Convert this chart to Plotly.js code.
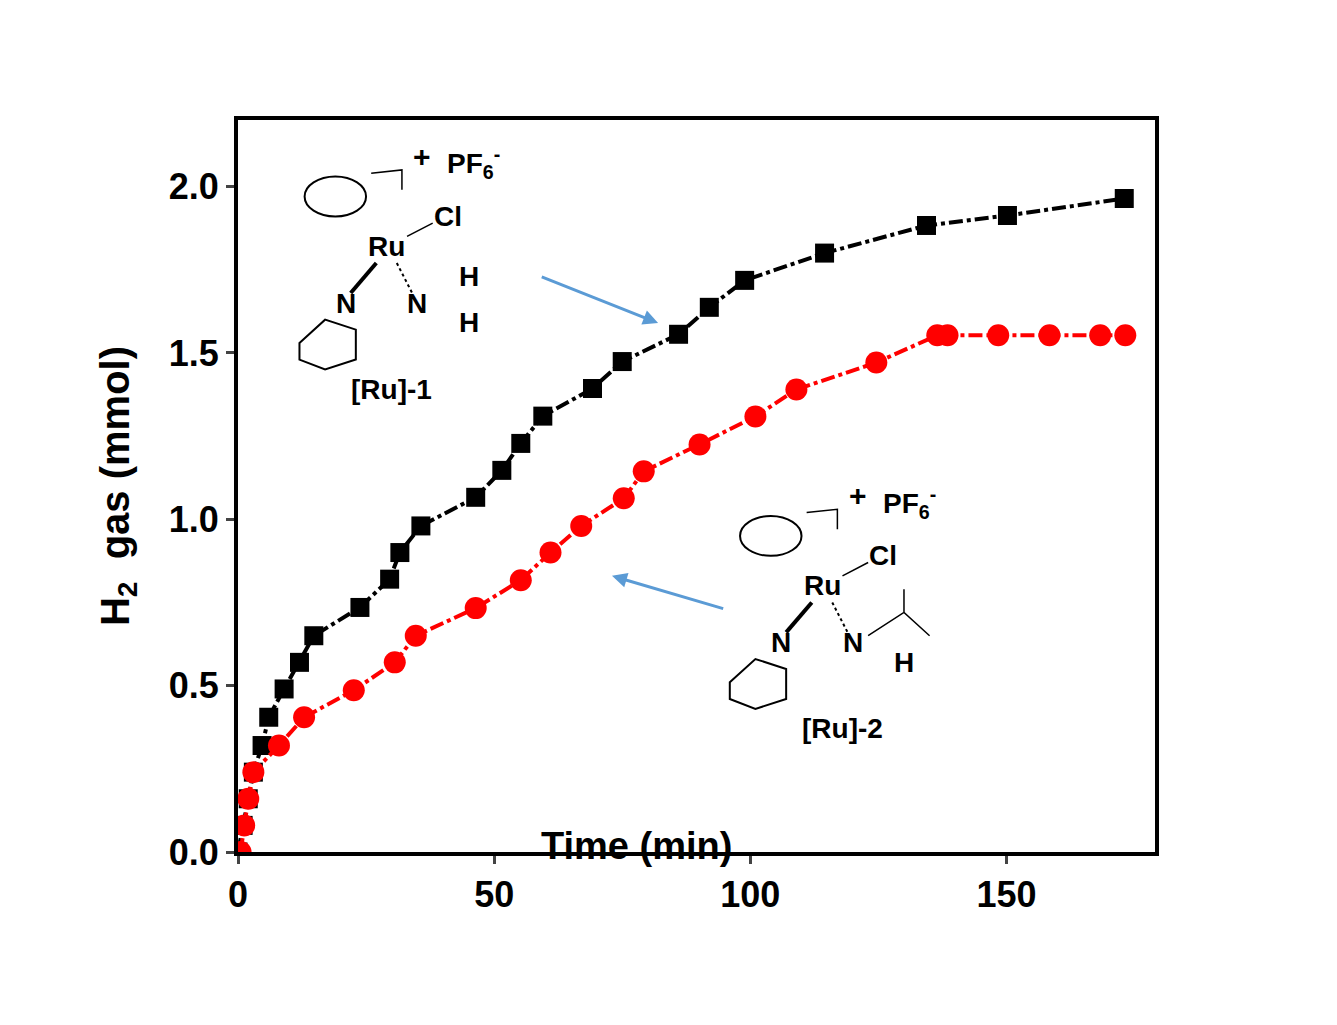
<!DOCTYPE html>
<html><head><meta charset="utf-8">
<script src="https://cdn.plot.ly/plotly-3.0.1.min.js"></script>
<style>body{margin:0;background:#fff}</style></head>
<body><div id="chart" style="width:1337px;height:1025px"></div>
<script>
const ru1Time = [0, 1, 2, 3, 4.7, 6, 9, 12, 14.8, 23.8, 29.6, 31.6, 35.7, 46.4, 51.5, 55.2, 59.5, 69.2, 75, 86, 92, 98.9, 114.5, 134.4, 150.2, 173];
const ru1H2 = [0, 0.08, 0.16, 0.24, 0.32, 0.405, 0.49, 0.57, 0.65, 0.735, 0.82, 0.9, 0.98, 1.066, 1.147, 1.228, 1.31, 1.393, 1.474, 1.556, 1.637, 1.718, 1.8, 1.883, 1.913, 1.964];
const ru2Time = [0.5, 1.2, 2, 3, 8, 12.9, 22.6, 30.6, 34.7, 46.4, 55.2, 61, 67, 75.3, 79.2, 90.1, 101, 109, 124.6, 136.5, 138.5, 148.4, 158.4, 168.3, 173.2];
const ru2H2 = [0, 0.08, 0.16, 0.24, 0.32, 0.405, 0.486, 0.57, 0.65, 0.733, 0.817, 0.9, 0.98, 1.063, 1.144, 1.225, 1.309, 1.39, 1.471, 1.553, 1.553, 1.553, 1.553, 1.553, 1.553];
const xTicks = [0, 50, 100, 150];
const yTicks = [0, 0.5, 1.0, 1.5, 2.0];

const font = { family: 'Liberation Sans, Arial', color: '#000' };

const traces = [
    {
        x: ru1Time, y: ru1H2, name: '[Ru]-1', type: 'scatter', mode: 'lines+markers',
        line: { color: '#000', width: 4, dash: '14px,4px,4px,4px' },
        marker: { symbol: 'square', size: 19, color: '#000' }
    },
    {
        x: ru2Time, y: ru2H2, name: '[Ru]-2', type: 'scatter', mode: 'lines+markers',
        line: { color: '#ff0000', width: 4, dash: '14px,4px,4px,4px' },
        marker: { symbol: 'circle', size: 22, color: '#ff0000' }
    }
];

// structure labels (text only, rough placement)
const lbl = (x, y, t, size) => ({ x, y, xref: 'x', yref: 'y', text: '<b>' + t + '</b>', showarrow: false,
    font: Object.assign({}, font, { size: size || 28 }) });

const annotations = [
    lbl(36, 2.09, '+', 30),
    lbl(46, 2.07, 'PF<sub>6</sub><sup>-</sup>'),
    lbl(41, 1.91, 'Cl'),
    lbl(29, 1.82, 'Ru'),
    lbl(21, 1.65, 'N'),
    lbl(35, 1.65, 'N'),
    lbl(45, 1.73, 'H'),
    lbl(45, 1.59, 'H'),
    lbl(30, 1.39, '[Ru]-1'),
    lbl(121, 1.07, '+', 30),
    lbl(131, 1.05, 'PF<sub>6</sub><sup>-</sup>'),
    lbl(126, 0.89, 'Cl'),
    lbl(114, 0.80, 'Ru'),
    lbl(106, 0.63, 'N'),
    lbl(120, 0.63, 'N'),
    lbl(130, 0.57, 'H'),
    lbl(118, 0.37, '[Ru]-2'),
    { x: 0.435, y: 0.04, xref: 'paper', yref: 'paper', xanchor: 'center', yanchor: 'top', showarrow: false,
      text: '<b>Time (min)</b>', font: Object.assign({}, font, { size: 38 }) },
    // arrows
    { x: 82, y: 1.59, ax: 59, ay: 1.73, xref: 'x', yref: 'y', axref: 'x', ayref: 'y', text: '',
      showarrow: true, arrowhead: 2, arrowsize: 1, arrowwidth: 3, arrowcolor: '#5b9bd5' },
    { x: 73, y: 0.83, ax: 95, ay: 0.73, xref: 'x', yref: 'y', axref: 'x', ayref: 'y', text: '',
      showarrow: true, arrowhead: 2, arrowsize: 1, arrowwidth: 3, arrowcolor: '#5b9bd5' }
];

// rough benzene rings / bonds drawn as shapes
const shapes = [
    { type: 'circle', xref: 'x', yref: 'y', x0: 13, x1: 25, y0: 1.91, y1: 2.03, line: { color: '#000', width: 2 } },
    { type: 'circle', xref: 'x', yref: 'y', x0: 98, x1: 110, y0: 0.89, y1: 1.01, line: { color: '#000', width: 2 } },
    { type: 'path', xref: 'x', yref: 'y', path: 'M 12,1.53 L 17,1.60 L 23,1.57 L 23,1.48 L 17,1.45 L 12,1.48 Z', line: { color: '#000', width: 2 } },
    { type: 'path', xref: 'x', yref: 'y', path: 'M 96,0.51 L 101,0.58 L 107,0.55 L 107,0.46 L 101,0.43 L 96,0.46 Z', line: { color: '#000', width: 2 } },
    { type: 'path', xref: 'x', yref: 'y', path: 'M 26,2.04 L 32,2.05 L 32,1.99', line: { color: '#000', width: 1.5 } },
    { type: 'path', xref: 'x', yref: 'y', path: 'M 111,1.02 L 117,1.03 L 117,0.97', line: { color: '#000', width: 1.5 } },
    { type: 'path', xref: 'x', yref: 'y', path: 'M 27,1.77 L 22,1.68', line: { color: '#000', width: 4 } },
    { type: 'path', xref: 'x', yref: 'y', path: 'M 31,1.77 L 34,1.68', line: { color: '#000', width: 2, dash: 'dot' } },
    { type: 'path', xref: 'x', yref: 'y', path: 'M 33,1.85 L 38,1.89', line: { color: '#000', width: 1.5 } },
    { type: 'path', xref: 'x', yref: 'y', path: 'M 112,0.75 L 107,0.66', line: { color: '#000', width: 4 } },
    { type: 'path', xref: 'x', yref: 'y', path: 'M 116,0.75 L 119,0.66', line: { color: '#000', width: 2, dash: 'dot' } },
    { type: 'path', xref: 'x', yref: 'y', path: 'M 118,0.83 L 123,0.87', line: { color: '#000', width: 1.5 } },
    { type: 'path', xref: 'x', yref: 'y', path: 'M 123,0.65 L 130,0.72 L 135,0.65 M 130,0.72 L 130,0.79', line: { color: '#000', width: 1.5 } }
];

const layout = {
    width: 1337, height: 1025,
    margin: { l: 238, r: 182, t: 120, b: 173 },
    paper_bgcolor: '#fff', plot_bgcolor: '#fff',
    showlegend: false,
    font: font,
    xaxis: {
        range: [0, 179], tickvals: xTicks, ticks: 'outside', ticklen: 8, tickwidth: 3,
        showline: true, linewidth: 4, linecolor: '#000', mirror: true, showgrid: false, zeroline: false,
        tickfont: Object.assign({}, font, { size: 36, weight: 'bold' })
    },
    yaxis: {
        range: [0, 2.2], tickvals: yTicks, ticktext: ['0.0', '0.5', '1.0', '1.5', '2.0'], ticks: 'outside', ticklen: 8, tickwidth: 3,
        showline: true, linewidth: 4, linecolor: '#000', mirror: true, showgrid: false, zeroline: false,
        tickfont: Object.assign({}, font, { size: 36, weight: 'bold' }),
        title: { text: '<b>H<sub>2</sub>  gas (mmol)</b>', font: Object.assign({}, font, { size: 40 }), standoff: 28 }
    },
    annotations: annotations,
    shapes: shapes
};

Plotly.newPlot('chart', traces, layout, { displayModeBar: false, staticPlot: true });
</script></body></html>
